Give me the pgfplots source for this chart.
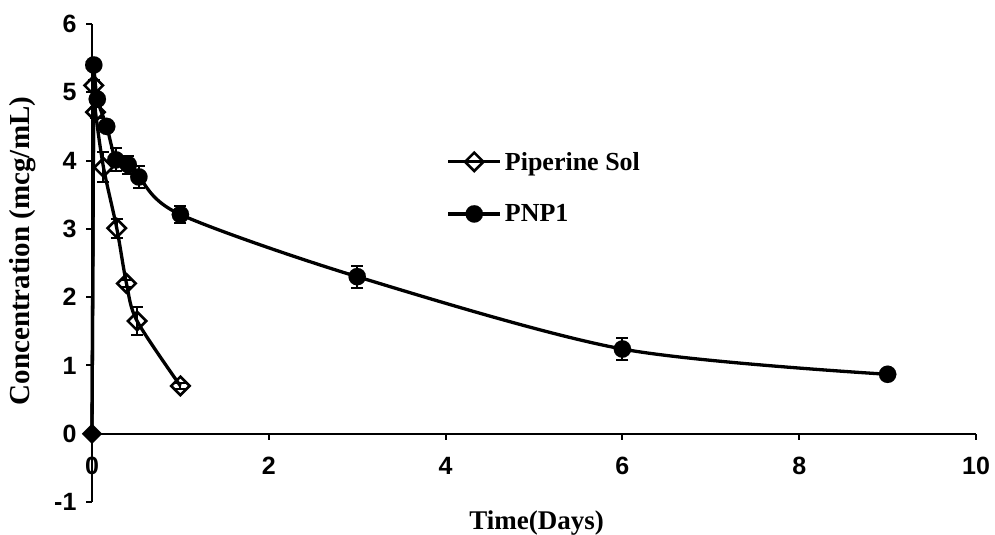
\documentclass[border=0pt]{standalone}
\usepackage{fontspec}
\setmainfont{Liberation Serif}
\newfontfamily\tickfont{Liberation Sans}
\usepackage{pgfplots}
\pgfplotsset{compat=1.18}
\usepackage{pgfplotstable}

\pgfplotstableread{
x y e
0.02 5.10 0.08
0.04 4.71 0.08
0.13 3.90 0.22
0.28 3.01 0.14
0.39 2.20 0.05
0.51 1.65 0.20
1.00 0.70 0.04
}\pip

\pgfplotstableread{
x y e
0.02 5.40 0.05
0.06 4.90 0.08
0.166 4.50 0.08
0.27 4.01 0.17
0.41 3.94 0.13
0.53 3.76 0.16
1.00 3.21 0.12
3.00 2.30 0.16
6.00 1.24 0.16
9.00 0.87 0.03
}\pnp

\begin{document}
\begin{tikzpicture}
\begin{axis}[
 scale only axis, width=884pt, height=478pt,
 xmin=0, xmax=10, ymin=-1, ymax=6,
 clip=false,
 axis x line*=middle, axis y line*=left,
 axis line style={line width=2.2pt, black},
 xtick={0,2,4,6,8,10}, xticklabels={0,2,4,6,8,10},
 ytick={-1,0,1,2,3,4,5,6}, yticklabels={-1,0,1,2,3,4,5,6},
 tick align=outside, major tick length=6pt,
 tick style={line width=2pt, black},
 hide obscured x ticks=false, hide obscured y ticks=false,
 tick label style={font=\tickfont\bfseries\fontsize{25}{25}\selectfont},
 xticklabel style={anchor=center, yshift=-26pt},
 yticklabel style={xshift=-6pt},
 xlabel={Time(Days)},
 ylabel={Concentration (mcg/mL)},
 xlabel style={at={(rel axis cs:0.503,-0.057)}, anchor=base, font=\bfseries\fontsize{27}{27}\selectfont},
 ylabel style={at={(rel axis cs:-0.079,0.525)}, anchor=center, font=\bfseries\fontsize{29}{29}\selectfont},
 legend style={draw=none, fill=none, font=\bfseries\fontsize{26}{26}\selectfont,
   at={(rel axis cs:0.3975,0.743)}, anchor=north west, row sep=27pt,
   nodes={inner sep=3pt}, cells={anchor=west}},
 legend image code/.code={\draw[#1, mark indices={2}] plot coordinates {(0pt,0pt) (26pt,0pt) (52pt,0pt)};},
]
\coordinate (A) at (rel axis cs:0,0);
\coordinate (B) at (rel axis cs:1,1);

% straight rise from the origin to the first sample
\addplot[forget plot, black, line width=3.3pt, no marks] coordinates {(0,0) (0.02,5.10)};
\addplot[forget plot, black, line width=3.3pt, no marks] coordinates {(0,0) (0.02,5.40)};

\addplot[black, line width=3.3pt, smooth, tension=0.5,
  mark=square, mark size=6.5pt, mark options={rotate=45, fill=white, solid, line width=2.6pt},
  error bars/.cd, y dir=both, y explicit,
  error bar style={line width=2pt, black},
  error mark options={rotate=90, line width=2pt, mark size=6pt, black}]
  table[x=x, y=y, y error=e] {\pip};

\addplot[black, line width=3.3pt, smooth, tension=0.5,
  mark=*, mark size=8.7pt, mark options={fill=black, solid, line width=0.1pt},
  error bars/.cd, y dir=both, y explicit,
  error bar style={line width=2pt, black},
  error mark options={rotate=90, line width=2pt, mark size=6pt, black}]
  table[x=x, y=y, y error=e] {\pnp};

\addplot[forget plot, only marks, mark=square*, mark size=7pt,
  mark options={rotate=45, fill=black, draw=black}] coordinates {(0,0)};

\legend{Piperine Sol, PNP1}
\end{axis}
\pgfresetboundingbox
\path[use as bounding box] ([xshift=-92pt,yshift=-33pt]A) rectangle ([xshift=19pt,yshift=24pt]B);
\end{tikzpicture}
\end{document}
